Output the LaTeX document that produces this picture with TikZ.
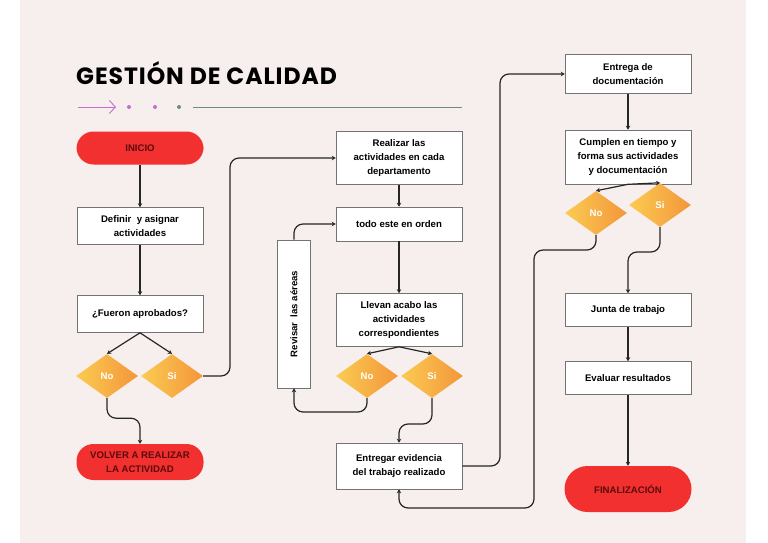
\documentclass[tikz,border=0pt]{standalone}
\usepackage{fontspec}
\setmainfont{Liberation Sans}
\newfontfamily\titlefont[LetterSpace=4]{Poppins}
\usetikzlibrary{shapes.geometric,arrows.meta}
\definecolor{bgpink}{HTML}{F6EFEE}
\definecolor{pillred}{HTML}{F2302F}
\definecolor{dred}{HTML}{5A0A0A}
\definecolor{orA}{HTML}{FBCB52}
\definecolor{orB}{HTML}{F3963A}
\definecolor{lilac}{HTML}{C46FCB}
\definecolor{slate}{HTML}{6E8A8C}
\tikzset{
  box/.style={draw=black!55,line width=0.6pt,fill=white,align=center,font=\bfseries\fontsize{9.6}{14}\selectfont,minimum width=126pt,inner sep=2pt},
  pill/.style={fill=pillred,rounded corners=17pt,align=center,text=dred,font=\bfseries\fontsize{9.6}{14}\selectfont,minimum width=127pt},
  dia/.style={diamond,aspect=1.4,minimum width=62pt,minimum height=44pt,inner sep=0pt,left color=orA,right color=orB,draw=none,text=white,font=\bfseries\fontsize{9.6}{10}\selectfont},
  con/.style={line width=1.2pt,black!85,rounded corners=9pt,-{Stealth[length=4pt,width=4.5pt]}},
}
\begin{document}
\begin{tikzpicture}[x=1pt,y=-1pt]
\fill[white] (0,0) rectangle (768,543);
\fill[bgpink] (20,0) rectangle (746,543);
\useasboundingbox (0,0) rectangle (768,543);
\node[anchor=west,inner sep=0pt,font=\titlefont\bfseries\fontsize{23.5}{24}\selectfont] (title) at (76,73) {GESTIÓN DE CALIDAD};
\coordinate (a0) at (78,107); \coordinate (a1) at (116,107);
\draw[lilac,line width=0.9pt,-{Straight Barb[length=6pt,width=13pt]}] (a0) -- (a1);
\fill[lilac] (129,107) circle (2pt) (155,107) circle (2pt);
\fill[slate] (179,107) circle (2pt);
\coordinate (l0) at (193,107); \coordinate (l1) at (462,107);
\draw[slate,line width=0.8pt] (l0) -- (l1);

\node[pill,minimum height=33pt] (ini) at (140,148) {INICIO};
\node[box,minimum height=37pt] (def) at (140,226) {Definir \ y asignar\\actividades};
\node[box,minimum height=37pt] (fue) at (140,314) {¿Fueron aprobados?};
\node[dia] (no1) at (107,376) {No};
\node[dia] (si1) at (172,376) {Si};
\node[pill,minimum height=36pt] (vol) at (140,462) {VOLVER A REALIZAR\\LA ACTIVIDAD};

\node[box,minimum height=53pt] (rea) at (399,158) {Realizar las\\actividades en cada\\departamento};
\node[box,minimum height=34pt] (tod) at (399,224) {todo este en orden};
\node[box,minimum width=148pt,minimum height=33pt,rotate=90] (rev) at (294,314) {Revisar \ las aéreas};
\node[box,minimum height=53pt] (lle) at (399,320) {Llevan acabo las\\actividades\\correspondientes};
\node[dia] (no2) at (367,376) {No};
\node[dia] (si2) at (432,376) {Si};
\node[box,minimum height=46pt] (ent) at (399,466) {Entregar evidencia\\del trabajo realizado};

\node[box,minimum height=39pt] (doc) at (628,74) {Entrega de\\documentación};
\node[box,minimum height=54pt] (cum) at (628,157) {Cumplen en tiempo y\\forma sus actividades\\y documentación};
\node[dia] (no3) at (596,213) {No};
\node[dia] (si3) at (660,205) {Si};
\node[box,minimum height=33pt] (jun) at (628,310) {Junta de trabajo};
\node[box,minimum height=33pt] (eva) at (628,378) {Evaluar resultados};
\node[pill,minimum height=46pt,rounded corners=23pt] (fin) at (628,489) {FINALIZACIÓN};

\draw[con] (ini) -- (def);
\draw[con] (def) -- (fue);
\draw[con] (fue.south) -- (no1.north);
\draw[con] (fue.south) -- (si1.north);
\draw[con] (no1.south) -- ++(0,20) -| (vol.north);
\draw[con] (si1.east) -| (230,220) |- (rea.west);
\draw[con] (rea) -- (tod);
\draw[con] (tod) -- (lle);
\draw[con] (lle.south) -- (no2.north);
\draw[con] (lle.south) -- (si2.north);
\draw[con] (no2.south) |- (294,412) -- (rev.west);
\draw[con] (rev.east) |- (tod.west);
\draw[con] (si2.south) |- (399,424) -- (ent.north);
\draw[con] (ent.east) -| (500,200) |- (doc.west);
\draw[con] (doc) -- (cum);
\draw[con] (cum.south) -- (no3.north);
\draw[con] (cum.south) -- (si3.north);
\draw[con] (no3.south) |- (534,250) |- (420,508) -| (ent.south);
\draw[con] (si3.south) |- (628,252) -- (jun.north);
\draw[con] (jun) -- (eva);
\draw[con] (eva) -- (fin);
\end{tikzpicture}
\end{document}
